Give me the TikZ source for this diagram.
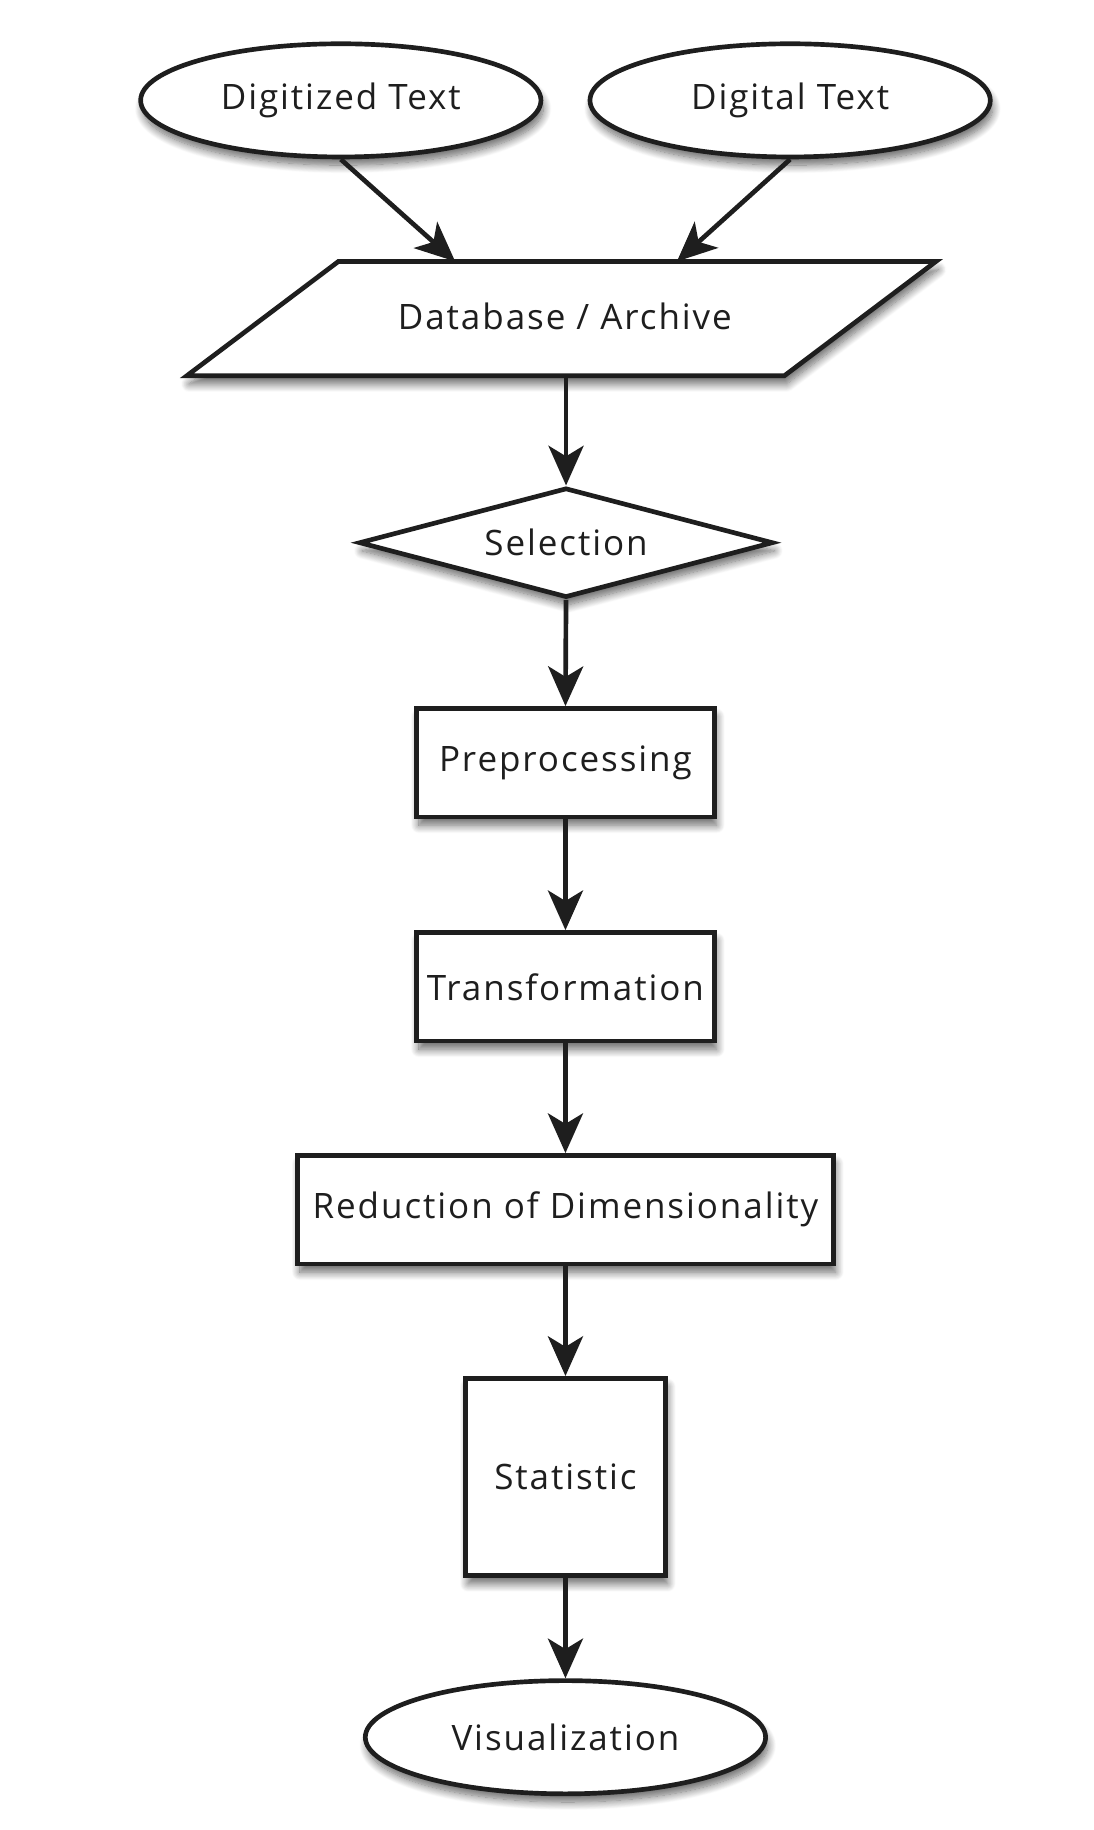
\documentclass[tikz,border=0pt]{standalone}
\usepackage{fontspec}
\setmainfont[LetterSpace=5.5]{Open Sans}
\usetikzlibrary{shapes.geometric,arrows.meta,shadows.blur,calc}
\definecolor{ink}{HTML}{1E1E1E}
\begin{document}
\begin{tikzpicture}[x=1pt,y=-1pt,
  every node/.style={font=\fontsize{30}{36}\selectfont, text=ink},
  shade/.style={blur shadow={shadow xshift=2pt, shadow yshift=-7pt, shadow blur radius=7pt, shadow blur steps=12, shadow opacity=60}},
  base/.style={draw=ink, line width=4pt, fill=white, inner sep=0pt, shade},
  oval/.style={base, ellipse, minimum width=343pt, minimum height=97pt},
  box/.style={base, rectangle, minimum height=93pt},
  choice/.style={base, diamond, aspect=3.78, minimum width=355pt, minimum height=94pt},
  flow/.style={draw=ink, line width=4pt, -{Stealth[length=34pt, width=30pt, inset=9pt]}}
]
\useasboundingbox (0,0) rectangle (937,1568);
\node[oval] (dt1) at (292,86) {Digitized Text};
\node[oval] (dt2) at (677,86) {Digital Text};
\draw[base] (290,224) -- (802,224) -- (672,322) -- (160,322) -- cycle;
\node[inner sep=0pt] (db) at (484,271) {Database / Archive};
\coordinate (dbin1) at (390,224);
\coordinate (dbin2) at (580,224);
\coordinate (dbout) at (485,322);
\node[choice] (sel) at (485,465) {Selection};
\node[box, minimum width=255pt] (pre) at (484.5,653.5) {Preprocessing};
\node[box, minimum width=255pt] (tra) at (484.5,845.5) {Transformation};
\node[box, minimum width=459pt] (red) at (484.5,1036.5) {Reduction of Dimensionality};
\node[box, minimum width=171pt, minimum height=169pt] (sta) at (484.5,1265.5) {Statistic};
\node[oval] (vis) at (484.5,1488.5) {Visualization};
\draw[flow] (dt1.south) -- (dbin1);
\draw[flow] (dt2.south) -- (dbin2);
\draw[flow] (dbout) -- (sel.north);
\draw[flow] (sel.south) -- (pre.north);
\draw[flow] (pre.south) -- (tra.north);
\draw[flow] (tra.south) -- (red.north);
\draw[flow] (red.south) -- (sta.north);
\draw[flow] (sta.south) -- (vis.north);
\end{tikzpicture}
\end{document}
